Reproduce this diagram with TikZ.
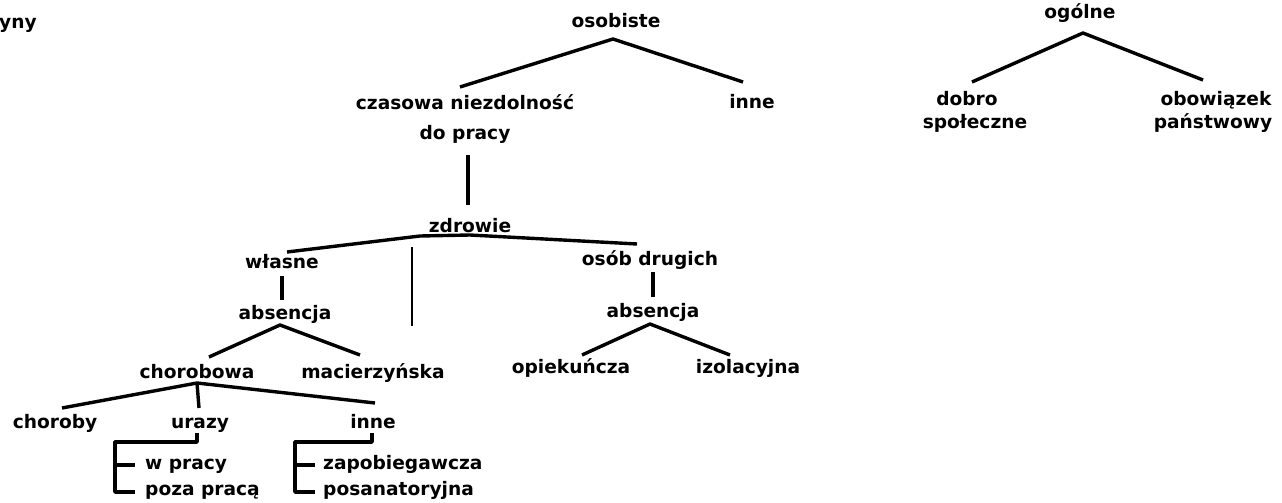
\documentclass[tikz,border=0pt]{standalone}
\usepackage{fontspec}
\setmainfont{DejaVu Sans}
\begin{document}
\begin{tikzpicture}[x=1pt,y=-1pt,
  lbl/.style={inner sep=0pt,anchor=base,font=\bfseries\fontsize{18.6}{21}\selectfont},
  lblw/.style={lbl,anchor=base west},
  con/.style={line width=3.4pt,line join=round}]
\useasboundingbox (0,0) rectangle (1282,503);
% labels
\node[lblw] (yny) at (-1,29) {yny};
\node[lbl] (osob) at (616,28) {osobiste};
\node[lbl] (czas) at (465,110) {czasowa niezdolność};
\node[lbl] (dopr) at (465,139) {do pracy};
\node[lbl] (inne1) at (752,108) {inne};
\node[lbl] (ogol) at (1080,19) {ogólne};
\node[lbl] (dobro) at (967,105) {dobro};
\node[lbl] (spol) at (975,128) {społeczne};
\node[lbl] (obow) at (1216,105) {obowiązek};
\node[lbl] (panst) at (1213,128) {państwowy};
\node[lbl] (zdr) at (470,232) {zdrowie};
\node[lbl] (wlas) at (282,268) {własne};
\node[lbl] (osdr) at (650,265) {osób drugich};
\node[lbl] (absL) at (285,319) {absencja};
\node[lbl] (absR) at (653,317) {absencja};
\node[lbl] (chor) at (197,378) {chorobowa};
\node[lbl] (mac) at (373,378) {macierzyńska};
\node[lbl] (opie) at (571,373) {opiekuńcza};
\node[lbl] (izol) at (748,373) {izolacyjna};
\node[lbl] (chby) at (55,428) {choroby};
\node[lbl] (uraz) at (200,428) {urazy};
\node[lbl] (inne2) at (373,428) {inne};
\node[lblw] (wpr) at (145,469) {w pracy};
\node[lblw] (pozp) at (145,495) {poza pracą};
\node[lblw] (zapo) at (323,469) {zapobiegawcza};
\node[lblw] (posa) at (323,495) {posanatoryjna};
% connector points
\coordinate (osobA) at (613,39);
\coordinate (czasT) at (460,87);
\coordinate (inne1T) at (743,82);
\coordinate (doprB) at (468,155);
\coordinate (zdrT) at (468,205);
\coordinate (wlasT) at (287,252);
\coordinate (zdrA) at (420,236);
\coordinate (zdrB) at (470,235);
\coordinate (osdrT) at (637,244);
\coordinate (midT) at (412,247);
\coordinate (midB) at (412,326);
\coordinate (wlasB) at (282,276);
\coordinate (absLT) at (282,300);
\coordinate (absLA) at (280,325);
\coordinate (chorT) at (209,357);
\coordinate (macT) at (360,355);
\coordinate (chorA) at (197,383);
\coordinate (chbyT) at (62,408);
\coordinate (urazT) at (199,408);
\coordinate (inne2T) at (375,403);
\coordinate (urazB) at (197,433);
\coordinate (urazK) at (197,442);
\coordinate (urazL) at (115,442);
\coordinate (urazM) at (115,465);
\coordinate (urazN) at (115,492);
\coordinate (wprT) at (135,465);
\coordinate (pozpT) at (135,492);
\coordinate (inneB) at (372,433);
\coordinate (inneK) at (372,442);
\coordinate (inneL) at (295,442);
\coordinate (inneM) at (295,465);
\coordinate (inneN) at (295,492);
\coordinate (zapoT) at (315,465);
\coordinate (posaT) at (315,492);
\coordinate (osdrB) at (653,272);
\coordinate (absRT) at (653,297);
\coordinate (absRA) at (650,324);
\coordinate (opieT) at (582,355);
\coordinate (izolT) at (730,355);
\coordinate (ogolA) at (1083,33);
\coordinate (dobroT) at (972,82);
\coordinate (obowT) at (1203,80);
% connectors
\draw[con] (czasT) -- (osobA) -- (inne1T);
\draw[con] (doprB) -- (zdrT);
\draw[con] (wlasT) -- (zdrA) -- (zdrB) -- (osdrT);
\draw[line width=2.8pt] (midT) -- (midB);
\draw[con] (wlasB) -- (absLT);
\draw[con] (chorT) -- (absLA) -- (macT);
\draw[con] (chbyT) -- (chorA) -- (inne2T);
\draw[con] (chorA) -- (urazT);
\draw[con] (urazB) -- (urazK) -- (urazL) -- (urazN) -- (pozpT);
\draw[con] (urazM) -- (wprT);
\draw[con] (inneB) -- (inneK) -- (inneL) -- (inneN) -- (posaT);
\draw[con] (inneM) -- (zapoT);
\draw[con] (osdrB) -- (absRT);
\draw[con] (opieT) -- (absRA) -- (izolT);
\draw[con] (dobroT) -- (ogolA) -- (obowT);
\end{tikzpicture}
\end{document}
